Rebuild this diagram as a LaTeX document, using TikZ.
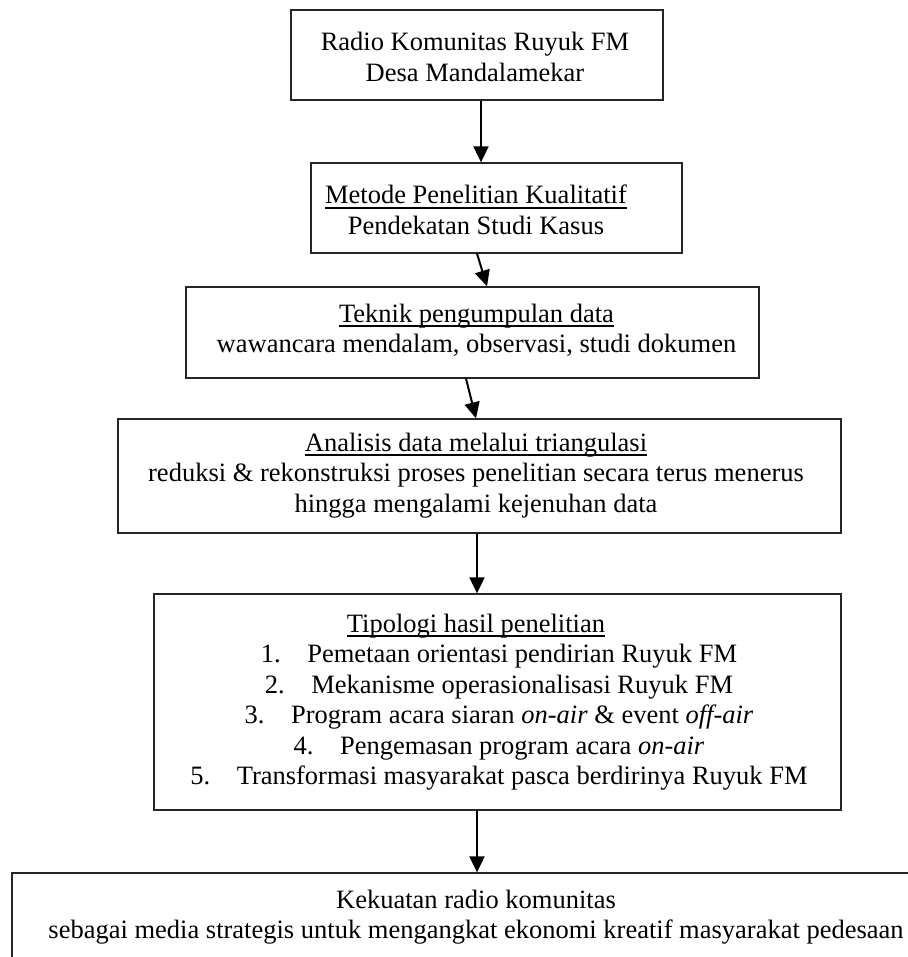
\documentclass[tikz,border=0pt]{standalone}
\usepackage{fontspec}
\setmainfont{Liberation Serif}
\usetikzlibrary{arrows.meta,fit}
\definecolor{edge}{HTML}{262626}
\newcommand{\ulx}[1]{\setbox0\hbox{#1}\rlap{\rule[-0.17em]{\wd0}{0.065em}}\box0}
\newcommand{\numx}[1]{\makebox[1.75em][l]{#1}}
\tikzset{
  box/.style={draw=edge, line width=0.65pt, inner sep=0pt},
  txt/.style={align=center, anchor=base, inner sep=0pt, font=\fontsize{13.25pt}{15.25pt}\selectfont},
  arr/.style={draw=black, line width=1pt, -{Triangle[length=8pt,width=7.5pt]}},
}

\begin{document}
\begin{tikzpicture}[x=0.5pt, y=-0.5pt]
  \clip (0,0) rectangle (908,957);
  % boxes
  \node[box, fit={(291,10) (663,100)}] (b1) {};
  \node[box, fit={(311,163) (682,253)}] (b2) {};
  \node[box, fit={(186,287) (759,378)}] (b3) {};
  \node[box, fit={(118,419) (841,533)}] (b4) {};
  \node[box, fit={(154,594) (841,810)}] (b5) {};
  \node[box, fit={(12,873) (960,1000)}] (b6) {};
  % texts (anchored on the last line)
  \node[txt] (t1) at (475,81.5) {Radio Komunitas Ruyuk FM\\Desa Mandalamekar};
  \node[txt] (t2) at (476,234.5) {\ulx{Metode Penelitian Kualitatif}\\Pendekatan Studi Kasus};
  \node[txt] (t3) at (476.5,352.5) {\ulx{Teknik pengumpulan data}\\wawancara mendalam, observasi, studi dokumen};
  \node[txt] (t4) at (476,512) {\ulx{Analisis data melalui triangulasi}\\reduksi \& rekonstruksi proses penelitian secara terus menerus\\hingga mengalami kejenuhan data};
  \node[txt] (t5) at (476,632) {\ulx{Tipologi hasil penelitian}};
  \node[txt] (l5) at (499,784.5) {\numx{1.}Pemetaan orientasi pendirian Ruyuk FM\\
    \numx{2.}Mekanisme operasionalisasi Ruyuk FM\\
    \numx{3.}Program acara siaran \textit{on-air} \& event \textit{off-air}\\
    \numx{4.}Pengemasan program acara \textit{on-air}\\
    \numx{5.}Transformasi masyarakat pasca berdirinya Ruyuk FM};
  \node[txt] (t6) at (476,938.5) {Kekuatan radio komunitas\\sebagai media strategis untuk mengangkat ekonomi kreatif masyarakat pedesaan};
  % arrows
  \draw[arr] (b1.south -| 481,0) -- (b2.north -| 481,0);
  \draw[arr] (b2.south -| 477,0) -- (b3.north -| 487,0);
  \draw[arr] (b3.south -| 466,0) -- (b4.north -| 476,0);
  \draw[arr] (b4.south -| 477,0) -- (b5.north -| 477,0);
  \draw[arr] (b5.south -| 477,0) -- (b6.north -| 477,0);
\end{tikzpicture}
\end{document}
